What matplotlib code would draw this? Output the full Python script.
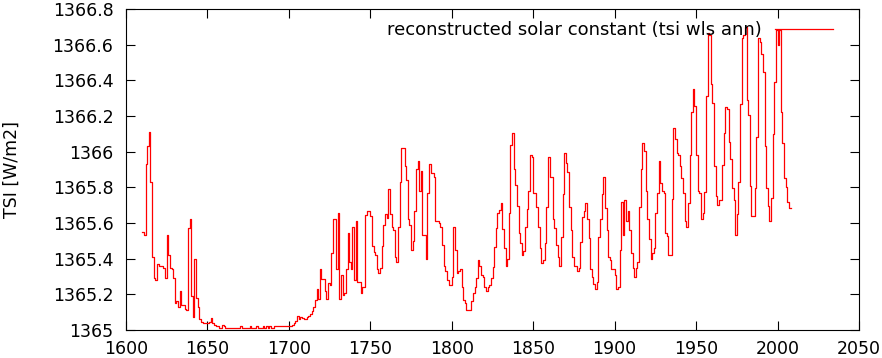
import numpy as np
import matplotlib
matplotlib.use("Agg")
from matplotlib import pyplot as plt

# annual TSI values, one row per decade, from 1610
tsi = [
    1365.55, 1365.53, 1365.93, 1366.03, 1366.11, 1365.83, 1365.41, 1365.29, 1365.28, 1365.37,
    1365.36, 1365.36, 1365.36, 1365.35, 1365.29, 1365.53, 1365.42, 1365.35, 1365.34, 1365.29,
    1365.15, 1365.16, 1365.13, 1365.22, 1365.14, 1365.14, 1365.12, 1365.11, 1365.57, 1365.62,
    1365.19, 1365.075, 1365.40, 1365.18, 1365.13, 1365.06, 1365.045, 1365.04, 1365.04, 1365.04,
    1365.04, 1365.045, 1365.066, 1365.04, 1365.03, 1365.025, 1365.025, 1365.012, 1365.012, 1365.028,
    1365.022, 1365.012, 1365.012, 1365.012, 1365.012, 1365.012, 1365.012, 1365.012, 1365.012, 1365.012,
    1365.022, 1365.012, 1365.012, 1365.012, 1365.012, 1365.011, 1365.022, 1365.011, 1365.011, 1365.011,
    1365.022, 1365.011, 1365.011, 1365.011, 1365.022, 1365.011, 1365.022, 1365.011, 1365.022, 1365.011,
    1365.011, 1365.022, 1365.022, 1365.022, 1365.022, 1365.022, 1365.022, 1365.022, 1365.022, 1365.022,
    1365.022, 1365.022, 1365.028, 1365.037, 1365.052, 1365.078, 1365.060, 1365.075, 1365.067, 1365.063,
    1365.063, 1365.071, 1365.078, 1365.092, 1365.105, 1365.127, 1365.168, 1365.228, 1365.176, 1365.340,
    1365.288, 1365.288, 1365.220, 1365.176, 1365.265, 1365.254, 1365.430, 1365.620, 1365.620, 1365.344,
    1365.658, 1365.176, 1365.306, 1365.198, 1365.206, 1365.340, 1365.546, 1365.381, 1365.340, 1365.579,
    1365.280, 1365.609, 1365.269, 1365.269, 1365.206, 1365.243, 1365.243, 1365.647, 1365.665, 1365.665,
    1365.639, 1365.471, 1365.437, 1365.419, 1365.344, 1365.318, 1365.347, 1365.471, 1365.587, 1365.650,
    1365.628, 1365.789, 1365.650, 1365.576, 1365.561, 1365.407, 1365.381, 1365.576, 1365.830, 1366.020,
    1366.020, 1365.920, 1365.841, 1365.621, 1365.590, 1365.449, 1365.497, 1365.669, 1365.901, 1365.946,
    1365.778, 1365.890, 1365.531, 1365.531, 1365.396, 1365.770, 1365.931, 1365.878, 1365.878, 1365.856,
    1365.613, 1365.613, 1365.598, 1365.576, 1365.479, 1365.359, 1365.329, 1365.280, 1365.254, 1365.254,
    1365.299, 1365.576, 1365.449, 1365.318, 1365.329, 1365.340, 1365.243, 1365.168, 1365.150, 1365.112,
    1365.112, 1365.112, 1365.161, 1365.206, 1365.239, 1365.292, 1365.393, 1365.359, 1365.306, 1365.295,
    1365.243, 1365.217, 1365.239, 1365.250, 1365.292, 1365.355, 1365.467, 1365.572, 1365.658, 1365.673,
    1365.714, 1365.568, 1365.460, 1365.359, 1365.396, 1365.658, 1366.036, 1366.106, 1365.901, 1365.815,
    1365.695, 1365.546, 1365.486, 1365.419, 1365.445, 1365.576, 1365.677, 1365.781, 1365.980, 1365.969,
    1365.770, 1365.770, 1365.688, 1365.576, 1365.460, 1365.378, 1365.392, 1365.486, 1365.688, 1365.969,
    1365.856, 1365.856, 1365.624, 1365.572, 1365.479, 1365.411, 1365.359, 1365.520, 1365.763, 1365.991,
    1365.935, 1365.886, 1365.692, 1365.561, 1365.411, 1365.359, 1365.359, 1365.333, 1365.347, 1365.493,
    1365.635, 1365.666, 1365.710, 1365.624, 1365.516, 1365.344, 1365.299, 1365.258, 1365.228, 1365.269,
    1365.520, 1365.620, 1365.763, 1365.856, 1365.684, 1365.561, 1365.407, 1365.393, 1365.344, 1365.344,
    1365.306, 1365.232, 1365.243, 1365.449, 1365.718, 1365.531, 1365.729, 1365.609, 1365.665, 1365.561,
    1365.430, 1365.348, 1365.295, 1365.348, 1365.381, 1365.688, 1365.901, 1366.047, 1366.006, 1365.778,
    1365.621, 1365.508, 1365.396, 1365.430, 1365.458, 1365.658, 1365.770, 1365.946, 1365.822, 1365.778,
    1365.767, 1365.542, 1365.527, 1365.419, 1365.419, 1365.736, 1366.133, 1366.069, 1365.994, 1365.983,
    1365.920, 1365.852, 1365.767, 1365.609, 1365.576, 1365.714, 1365.980, 1366.222, 1366.350, 1366.256,
    1365.980, 1365.778, 1365.770, 1365.624, 1365.658, 1365.774, 1366.312, 1366.667, 1366.652, 1366.379,
    1366.275, 1365.920, 1365.751, 1365.699, 1365.729, 1365.729, 1365.924, 1366.106, 1366.249, 1366.241,
    1366.052, 1365.959, 1365.798, 1365.727, 1365.533, 1365.649, 1365.828, 1366.265, 1366.639, 1366.654,
    1366.699, 1366.288, 1366.206, 1365.806, 1365.641, 1365.641, 1365.794, 1366.082, 1366.636, 1366.617,
    1366.546, 1366.448, 1366.030, 1365.798, 1365.697, 1365.611, 1365.738, 1366.097, 1366.392, 1366.684,
    1366.598, 1366.684, 1366.224, 1366.048, 1365.850, 1365.802, 1365.716, 1365.686, 1365.686,
]
years = np.arange(1610, 1610 + len(tsi))

xticks = np.arange(1600, 2051, 50)
yticks = np.round(np.arange(1365.0, 1366.81, 0.2), 1)

plt.rcParams['font.family'] = ['DejaVu Sans']
plt.rcParams['font.size'] = 12.5

fig = plt.figure(figsize=(8.82, 3.58), dpi=100)
ax = fig.add_axes([126 / 882, 28 / 358, 733 / 882, 321 / 358])

ax.plot(years, tsi, drawstyle='steps-post', color='red', lw=0.9,
        label='reconstructed solar constant (tsi wls ann)')

ax.set_xlim(1600, 2050)
ax.set_ylim(1365.0, 1366.8)
ax.set_xticks(xticks)
ax.set_yticks(yticks)
ax.set_yticklabels(['%g' % v for v in yticks])
ax.tick_params(direction='in', length=6.5, width=0.8, top=True, right=True)
ax.tick_params(axis='y', pad=9)
ax.tick_params(axis='x', pad=7)
for s in ax.spines.values():
    s.set_linewidth(0.8)

ax.set_ylabel('TSI [W/m2]', labelpad=23)

ax.legend(loc='upper right', bbox_to_anchor=(0.9645, 0.962), markerfirst=False,
          frameon=False, fontsize=13, handlelength=3.2, handletextpad=0.72,
          borderpad=0, borderaxespad=0)

fig.savefig('out.png', dpi=100)
